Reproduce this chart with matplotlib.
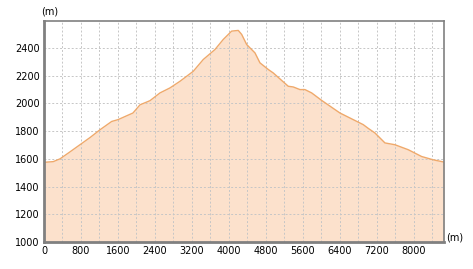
import numpy as np
import matplotlib
matplotlib.use('Agg')
from matplotlib import pyplot as plt

# elevation profile
distance = [0, 200, 346, 560, 778, 1000, 1211, 1464, 1600, 1924, 2076, 2292, 2508, 2724,
            2941, 3228, 3444, 3697, 3877, 4058, 4201, 4275, 4383, 4562, 4670, 4850, 4958,
            5282, 5390, 5535, 5643, 5788, 6004, 6400, 6688, 6904, 7012, 7157, 7373, 7589,
            7877, 8166, 8418, 8650]
elevation = [1575, 1580, 1600, 1650, 1702, 1755, 1810, 1870, 1883, 1931, 1990, 2020, 2076, 2112,
             2160, 2232, 2317, 2389, 2462, 2522, 2527, 2498, 2425, 2365, 2293, 2245, 2220,
             2124, 2119, 2100, 2100, 2076, 2022, 1931, 1883, 1847, 1820, 1787, 1715, 1702,
             1666, 1617, 1593, 1577]
xticks = [0, 800, 1600, 2400, 3200, 4000, 4800, 5600, 6400, 7200, 8000]
yticks = [1000, 1200, 1400, 1600, 1800, 2000, 2200, 2400]

fig = plt.figure(figsize=(4.73, 2.69), dpi=100)
ax = fig.add_axes([44/473, 1 - 242/269, 400/473, 221/269])

ax.fill_between(distance, elevation, 1000, color='#fce1cc', lw=0, zorder=1)
ax.plot(distance, elevation, color='#efa96b', lw=1.0, zorder=2)

ax.set_xlim(0, 8650)
ax.set_ylim(1000, 2595)
ax.set_xticks(xticks)
ax.set_yticks(yticks)
ax.set_xticks(np.arange(400, 8650, 800), minor=True)
ax.tick_params(which='both', length=0, labelsize=7, pad=3)
ax.grid(True, which='both', color='#c6c6c6', ls=(0, (2, 2)), lw=0.7, zorder=3)

for s in ax.spines.values():
    s.set_color('#808080')
    s.set_linewidth(1.2)
    s.set_zorder(4)
ax.spines['left'].set_linewidth(2)
ax.spines['bottom'].set_linewidth(2)

fig.text(50/473, 1 - 11/269, '(m)', fontsize=7, ha='center', va='center')
fig.text(455/473, 1 - 238/269, '(m)', fontsize=7, ha='center', va='center')

fig.savefig('out.png', dpi=100)
